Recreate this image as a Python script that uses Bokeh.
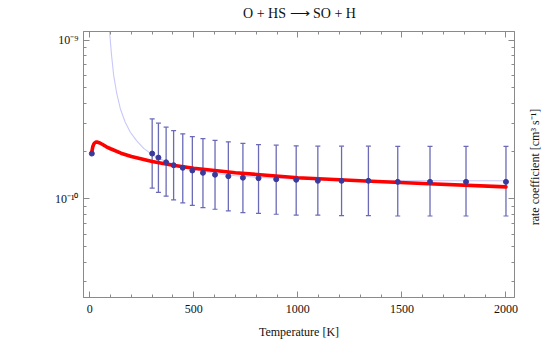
import math
from bokeh.plotting import figure
from bokeh.models import (ColumnDataSource, LogAxis, LinearAxis, FixedTicker, Whisker,
                          TeeHead, Label, Range1d)
from bokeh.embed import file_html
from bokeh.resources import INLINE

# ---- data ----
title_text = "O + HS \u27f6 SO + H"
x_label = "Temperature [K]"
y_label = "rate coefficient  [cm\u00b3 s\u207b\u00b9]"

T_first = [10]
k_first = [1.93e-10]

T_pts = [300, 330, 367, 403, 447, 493, 544, 602, 666, 736, 811, 896,
         992, 1096, 1210, 1339, 1480, 1635, 1808, 2000]
k_pts = [1.93e-10, 1.82e-10, 1.70e-10, 1.63e-10, 1.57e-10, 1.51e-10, 1.46e-10,
         1.42e-10, 1.39e-10, 1.36e-10, 1.35e-10, 1.33e-10, 1.32e-10, 1.30e-10,
         1.30e-10, 1.30e-10, 1.28e-10, 1.28e-10, 1.28e-10, 1.28e-10]
k_upper = [3.19e-10, 3.00e-10, 2.83e-10, 2.69e-10, 2.57e-10, 2.47e-10, 2.40e-10,
           2.34e-10, 2.29e-10, 2.24e-10, 2.20e-10, 2.18e-10, 2.16e-10, 2.15e-10,
           2.15e-10, 2.15e-10, 2.14e-10, 2.14e-10, 2.14e-10, 2.14e-10]
k_lower = [1.17e-10, 1.10e-10, 1.04e-10, 9.85e-11, 9.43e-11, 9.10e-11, 8.80e-11,
           8.60e-11, 8.40e-11, 8.20e-11, 8.10e-11, 8.00e-11, 7.90e-11, 7.90e-11,
           7.85e-11, 7.85e-11, 7.80e-11, 7.80e-11, 7.80e-11, 7.80e-11]

T_red = [10, 15, 20, 25, 30, 35, 45, 60, 80, 100, 150, 200, 300, 400, 500,
         700, 1000, 1300, 1600, 2000]
k_red = [1.98e-10, 2.14e-10, 2.22e-10, 2.26e-10, 2.28e-10, 2.28e-10, 2.26e-10,
         2.21e-10, 2.13e-10, 2.07e-10, 1.94e-10, 1.85e-10, 1.72e-10, 1.63e-10,
         1.56e-10, 1.46e-10, 1.36e-10, 1.30e-10, 1.25e-10, 1.19e-10]

T_fit = [88, 96, 105, 115, 130, 147, 170, 195, 225, 259, 300, 350, 400, 500,
         600, 700, 800, 1000, 1200, 1500, 1800, 2000]
k_fit = [1.6e-9, 1.10e-9, 8.0e-10, 6.0e-10, 4.6e-10, 3.7e-10, 3.05e-10, 2.63e-10,
         2.33e-10, 2.08e-10, 1.90e-10, 1.76e-10, 1.66e-10, 1.53e-10, 1.45e-10,
         1.40e-10, 1.37e-10, 1.33e-10, 1.31e-10, 1.30e-10, 1.30e-10, 1.30e-10]

x_major = [0, 500, 1000, 1500, 2000]
x_minor = [100, 200, 300, 400, 600, 700, 800, 900, 1100, 1200, 1300, 1400,
           1600, 1700, 1800, 1900]
y_major = [1e-10, 1e-9]
y_major_labels = {1e-10: "10\u207b\u00b9\u2070", 1e-9: "10\u207b\u2079"}
y_minor = [3e-11, 4e-11, 5e-11, 6e-11, 7e-11, 8e-11, 9e-11,
           2e-10, 3e-10, 4e-10, 5e-10, 6e-10, 7e-10, 8e-10, 9e-10]

FONT = "Liberation Serif"
AX = "#8a8a8a"

p = figure(width=548, height=345, y_axis_type="log",
           x_range=Range1d(-30, 2041), y_range=Range1d(2.39e-11, 1.135e-9),
           output_backend="svg", toolbar_location=None,
           min_border_left=83, min_border_right=34, min_border_top=31,
           min_border_bottom=48, x_axis_location="below")
p.grid.visible = False
p.outline_line_color = AX
p.background_fill_color = "white"
p.border_fill_color = "white"

xt = FixedTicker(ticks=x_major, minor_ticks=x_minor)
yt = FixedTicker(ticks=y_major, minor_ticks=y_minor)

def style(ax):
    ax.axis_line_color = AX
    ax.major_tick_line_color = AX
    ax.minor_tick_line_color = AX
    ax.major_tick_in = 6
    ax.major_tick_out = 0
    ax.minor_tick_in = 3
    ax.minor_tick_out = 0
    ax.major_label_text_font = FONT
    ax.major_label_text_font_size = "12px"
    ax.major_label_text_color = "#111111"
    ax.axis_label_text_font = FONT
    ax.axis_label_text_font_style = "normal"
    ax.axis_label_text_font_size = "12px"
    ax.axis_label_text_color = "#111111"

xa = p.xaxis[0]
xa.ticker = xt
style(xa)
xa.major_label_standoff = 7
xa.axis_label = x_label
xa.axis_label_standoff = 9

ya = p.yaxis[0]
ya.ticker = yt
style(ya)
ya.major_label_overrides = y_major_labels
ya.major_label_standoff = 5

top = LinearAxis(ticker=xt)
style(top)
top.major_label_overrides = {t: "" for t in x_major}
top.major_label_standoff = 0
p.add_layout(top, "above")
right = LogAxis(ticker=yt)
style(right)
right.major_label_overrides = {t: "" for t in y_major}
right.major_label_standoff = 0
p.add_layout(right, "right")

# light fit curve
p.line(T_fit, k_fit, line_color="#c8c8fb", line_width=1.1)

# error bars
src = ColumnDataSource(dict(x=T_pts, y=k_pts, up=k_upper, lo=k_lower))
ebc = "#6a6ab8"
w = Whisker(source=src, base="x", upper="up", lower="lo", dimension="height",
            line_color=ebc, line_width=1.3,
            upper_head=TeeHead(size=5, line_color=ebc, line_width=1.2),
            lower_head=TeeHead(size=5, line_color=ebc, line_width=1.2))
p.add_layout(w)

# red curve
p.line(T_red, k_red, line_color="#ff0000", line_width=3.6, line_cap="round",
       line_join="round")

# points
p.scatter(T_pts, k_pts, size=5, fill_color="#3a3a9c", line_color="#3a3a9c")
p.scatter(T_first, k_first, size=5, fill_color="#3a3a9c", line_color="#3a3a9c")

ttl = Label(x=216, y=18, x_units="screen", y_units="screen", text=title_text,
            text_font=FONT, text_font_size="14px", text_color="#111111",
            text_align="center", text_baseline="middle")
p.add_layout(ttl, "above")

lab = Label(x=20, y=132, x_units="screen", y_units="screen", text=y_label,
            angle=math.pi / 2, text_font=FONT, text_font_size="12px",
            text_color="#111111", text_align="center", text_baseline="middle")
p.add_layout(lab, "right")

open("out.html", "w").write(file_html(p, INLINE))
